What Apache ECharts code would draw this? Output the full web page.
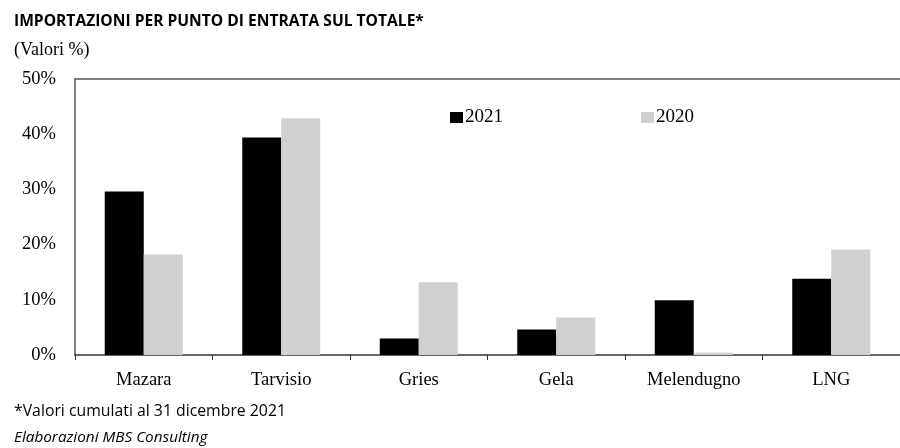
<!DOCTYPE html>
<html>
<head>
<meta charset="utf-8">
<script src="https://cdn.jsdelivr.net/npm/echarts@6/dist/echarts.min.js"></script>
<style>html,body{margin:0;padding:0;background:#fff;}#c{width:900px;height:448px;}</style>
</head>
<body>
<div id="c"></div>
<script>
const categories = ['Mazara', 'Tarvisio', 'Gries', 'Gela', 'Melendugno', 'LNG'];
const values2021 = [29.6, 39.4, 3.0, 4.6, 9.9, 13.8];
const values2020 = [18.2, 42.9, 13.2, 6.8, 0.4, 19.1];
const seriesNames = ['2021', '2020'];

const chart = echarts.init(document.getElementById('c'), null, {renderer: 'canvas'});
const serif = 'Liberation Serif, Times New Roman, serif';
chart.setOption({
  animation: false,
  backgroundColor: '#fff',
  title: [
    {text: 'IMPORTAZIONI PER PUNTO DI ENTRATA SUL TOTALE*', left: 9, top: 9,
     textStyle: {fontFamily: 'Open Sans, sans-serif', fontWeight: 'bold', fontSize: 15.6, color: '#000'}},
    {text: '(Valori %)', left: 9, top: 36,
     textStyle: {fontFamily: serif, fontWeight: 'normal', fontSize: 18, color: '#000'}},
    {text: '*Valori cumulati al 31 dicembre 2021', left: 9, top: 398,
     textStyle: {fontFamily: 'Open Sans, sans-serif', fontWeight: 'normal', fontSize: 15.8, color: '#000'}},
    {text: 'Elaborazioni MBS Consulting', left: 9, top: 425,
     textStyle: {fontFamily: 'Open Sans, sans-serif', fontStyle: 'italic', fontWeight: 'normal', fontSize: 15.3, color: '#000'}}
  ],
  legend: [
    {data: [seriesNames[0]], left: 445, top: 103, itemWidth: 13, itemHeight: 11, icon: 'rect',
     textStyle: {fontFamily: serif, fontSize: 19, color: '#000', padding: [0,0,0,-3]}},
    {data: [seriesNames[1]], left: 636, top: 103, itemWidth: 13, itemHeight: 11, icon: 'rect',
     textStyle: {fontFamily: serif, fontSize: 19, color: '#000', padding: [0,0,0,-3]}}
  ],
  grid: {left: 75, top: 79, bottom: 93, width: 834, containLabel: false},
  xAxis: [
    {type: 'category', data: categories, position: 'bottom',
     axisLine: {show: true, lineStyle: {color: '#333', width: 1.5}},
     axisTick: {show: true, inside: false, length: 5, alignWithLabel: false, lineStyle: {color: '#333'}},
     axisLabel: {fontFamily: serif, fontSize: 18.5, color: '#000', margin: 16},
     splitLine: {show: false}},
    {type: 'category', data: categories, position: 'top',
     axisLine: {show: true, lineStyle: {color: '#555', width: 1.5}},
     axisTick: {show: false}, axisLabel: {show: false}, splitLine: {show: false}}
  ],
  yAxis: {
    type: 'value', min: 0, max: 50, interval: 10,
    axisLine: {show: true, lineStyle: {color: '#555', width: 1.5}},
    axisTick: {show: false},
    splitLine: {show: false},
    axisLabel: {formatter: '{value}%', fontFamily: serif, fontSize: 18.5, color: '#000', margin: 19}
  },
  series: [
    {name: seriesNames[0], type: 'bar', data: values2021, barWidth: 39, barGap: '0%',
     itemStyle: {color: '#000'}},
    {name: seriesNames[1], type: 'bar', data: values2020, barWidth: 39, barGap: '0%',
     itemStyle: {color: '#d0cfd1'}}
  ]
});
</script>
</body>
</html>
